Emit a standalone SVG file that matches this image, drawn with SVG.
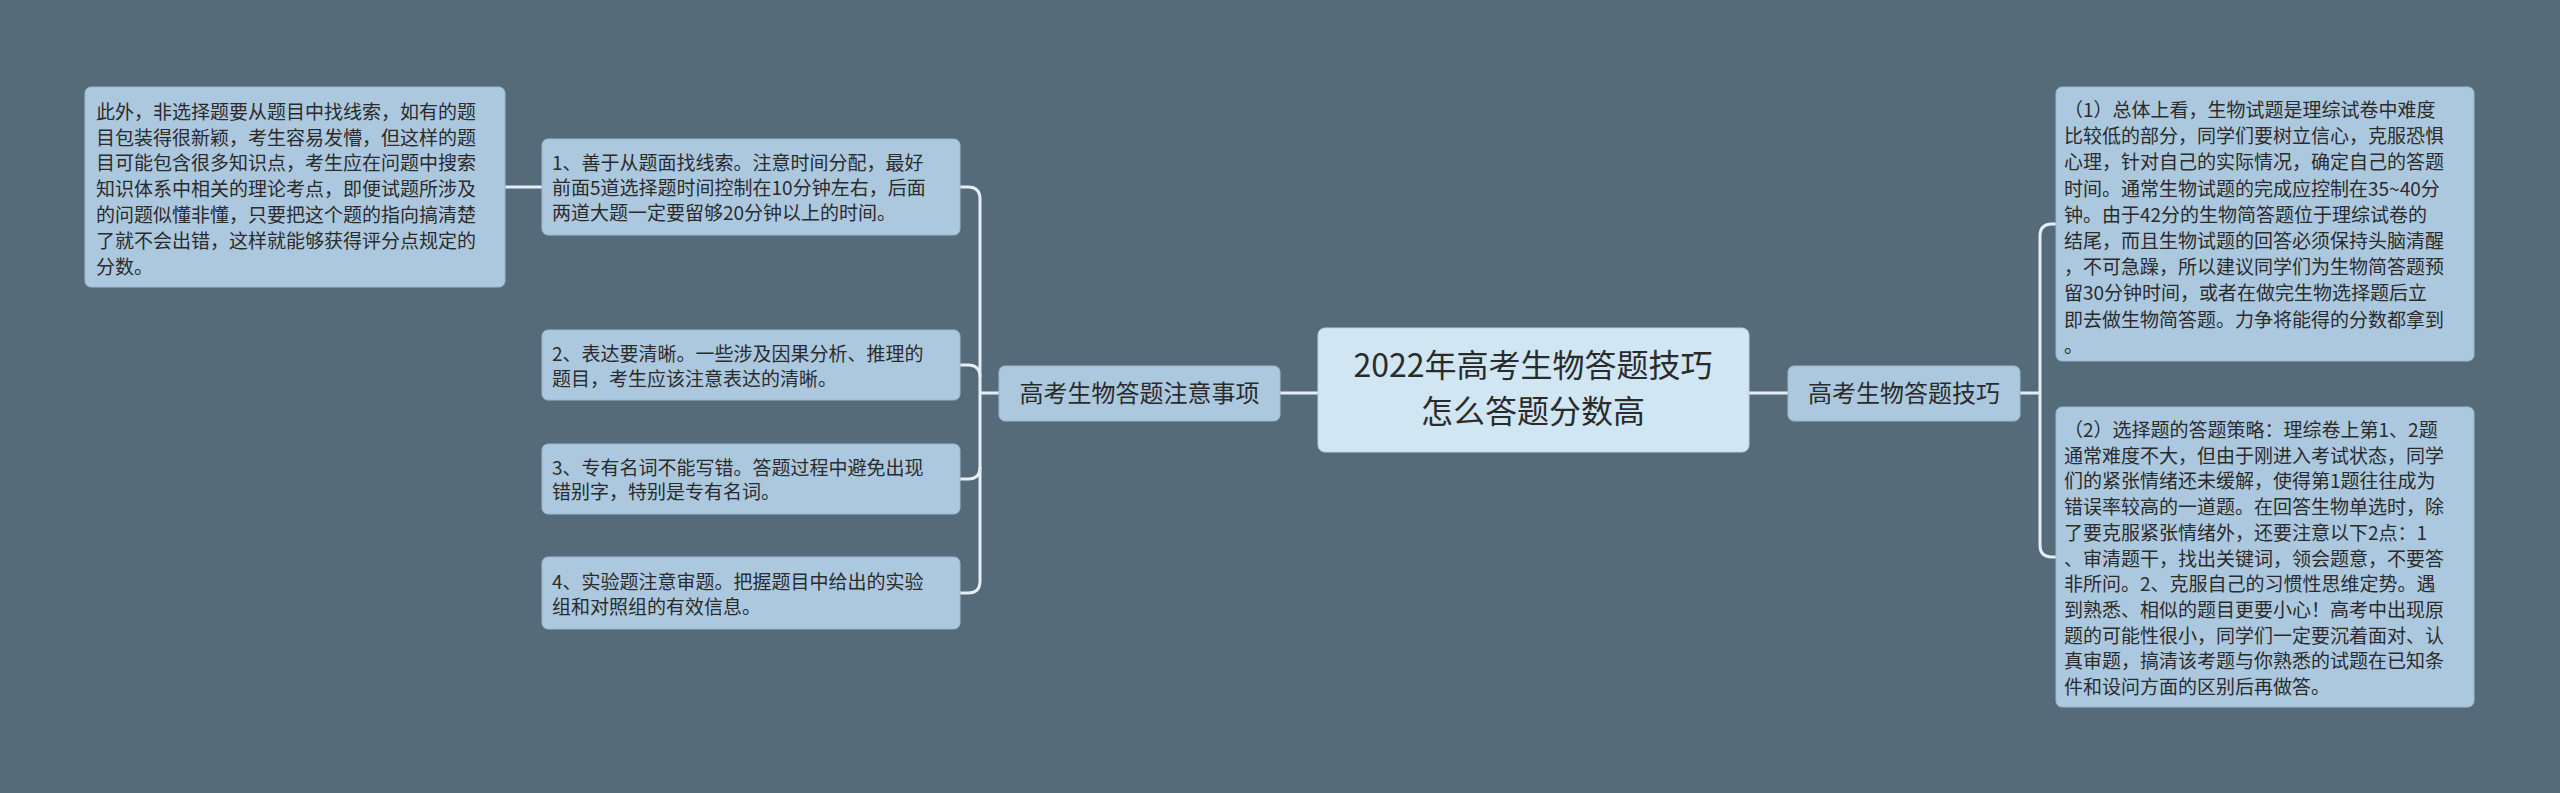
<svg xmlns="http://www.w3.org/2000/svg" width="2560" height="793" viewBox="0 0 2560 793">
<style>
.n{fill:#abc8de;stroke:#9bb8cf;stroke-width:1}
.t{font-family:"Noto Sans CJK SC","Liberation Sans",sans-serif;font-size:19px;fill:#2b2b2b}
.b{font-family:"Noto Sans CJK SC","Liberation Sans",sans-serif;font-size:24px;fill:#2b2b2b}
.c{font-family:"Noto Sans CJK SC","Liberation Sans",sans-serif;font-size:32px;fill:#2b2b2b}
.l{fill:none;stroke:#e4eef5;stroke-width:3}
</style>
<rect width="2560" height="793" fill="#566b7a"/>
<g id="connectors">
<path class="l" d="M1280 393H1318"/>
<path class="l" d="M1749 393H1788"/>
<path class="l" d="M999 393H980"/>
<path class="l" d="M960 187H968Q980 187 980 199V581Q980 593 968 593H960"/>
<path class="l" d="M960 365H968Q980 365 980 377M980 467Q980 479 968 479H960"/>
<path class="l" d="M542 187H505"/>
<path class="l" d="M2020 393H2040"/>
<path class="l" d="M2056 224H2052Q2040 224 2040 236V545Q2040 557 2052 557H2056"/>
</g>
<g id="center">
<rect x="1318" y="328" width="431" height="124" rx="7" fill="#d0e6f3" stroke="#b8d2e4"/>
<text class="c" x="1533" y="377" text-anchor="middle">2022年高考生物答题技巧</text>
<text class="c" x="1533" y="423" text-anchor="middle">怎么答题分数高</text>
</g>
<g id="left-branch">
<rect class="n" x="999" y="366" width="281" height="55" rx="6"/>
<text class="b" x="1139.5" y="402" text-anchor="middle">高考生物答题注意事项</text>
</g>
<g id="right-branch">
<rect class="n" x="1788" y="366" width="232" height="55" rx="6"/>
<text class="b" x="1904" y="402" text-anchor="middle">高考生物答题技巧</text>
</g>
<g id="box-extra">
<rect class="n" x="85" y="87" width="420" height="200" rx="6"/>
<text class="t"><tspan x="96" y="119">此外，非选择题要从题目中找线索，如有的题</tspan><tspan x="96" y="145">目包装得很新颖，考生容易发懵，但这样的题</tspan><tspan x="96" y="170">目可能包含很多知识点，考生应在问题中搜索</tspan><tspan x="96" y="196">知识体系中相关的理论考点，即便试题所涉及</tspan><tspan x="96" y="222">的问题似懂非懂，只要把这个题的指向搞清楚</tspan><tspan x="96" y="248">了就不会出错，这样就能够获得评分点规定的</tspan><tspan x="96" y="274">分数。</tspan></text>
</g>
<g id="box-1">
<rect class="n" x="542" y="139" width="418" height="96" rx="6"/>
<text class="t"><tspan x="552" y="170">1、善于从题面找线索。注意时间分配，最好</tspan><tspan x="552" y="195">前面5道选择题时间控制在10分钟左右，后面</tspan><tspan x="552" y="220">两道大题一定要留够20分钟以上的时间。</tspan></text>
</g>
<g id="box-2">
<rect class="n" x="542" y="330" width="418" height="70" rx="6"/>
<text class="t"><tspan x="552" y="361">2、表达要清晰。一些涉及因果分析、推理的</tspan><tspan x="552" y="386">题目，考生应该注意表达的清晰。</tspan></text>
</g>
<g id="box-3">
<rect class="n" x="542" y="444" width="418" height="70" rx="6"/>
<text class="t"><tspan x="552" y="475">3、专有名词不能写错。答题过程中避免出现</tspan><tspan x="552" y="499">错别字，特别是专有名词。</tspan></text>
</g>
<g id="box-4">
<rect class="n" x="542" y="557" width="418" height="72" rx="6"/>
<text class="t"><tspan x="552" y="589">4、实验题注意审题。把握题目中给出的实验</tspan><tspan x="552" y="614">组和对照组的有效信息。</tspan></text>
</g>
<g id="box-r1">
<rect class="n" x="2056" y="87" width="418" height="274" rx="6"/>
<text class="t"><tspan x="2064" y="117">（1）总体上看，生物试题是理综试卷中难度</tspan><tspan x="2064" y="143">比较低的部分，同学们要树立信心，克服恐惧</tspan><tspan x="2064" y="169">心理，针对自己的实际情况，确定自己的答题</tspan><tspan x="2064" y="196">时间。通常生物试题的完成应控制在35~40分</tspan><tspan x="2064" y="222">钟。由于42分的生物简答题位于理综试卷的</tspan><tspan x="2064" y="248">结尾，而且生物试题的回答必须保持头脑清醒</tspan><tspan x="2064" y="274">，不可急躁，所以建议同学们为生物简答题预</tspan><tspan x="2064" y="300">留30分钟时间，或者在做完生物选择题后立</tspan><tspan x="2064" y="327">即去做生物简答题。力争将能得的分数都拿到</tspan><tspan x="2064" y="353">。</tspan></text>
</g>
<g id="box-r2">
<rect class="n" x="2056" y="407" width="418" height="300" rx="6"/>
<text class="t"><tspan x="2064" y="437">（2）选择题的答题策略：理综卷上第1、2题</tspan><tspan x="2064" y="463">通常难度不大，但由于刚进入考试状态，同学</tspan><tspan x="2064" y="488">们的紧张情绪还未缓解，使得第1题往往成为</tspan><tspan x="2064" y="514">错误率较高的一道题。在回答生物单选时，除</tspan><tspan x="2064" y="540">了要克服紧张情绪外，还要注意以下2点：1</tspan><tspan x="2064" y="566">、审清题干，找出关键词，领会题意，不要答</tspan><tspan x="2064" y="591">非所问。2、克服自己的习惯性思维定势。遇</tspan><tspan x="2064" y="617">到熟悉、相似的题目更要小心！高考中出现原</tspan><tspan x="2064" y="643">题的可能性很小，同学们一定要沉着面对、认</tspan><tspan x="2064" y="668">真审题，搞清该考题与你熟悉的试题在已知条</tspan><tspan x="2064" y="694">件和设问方面的区别后再做答。</tspan></text>
</g>
</svg>
